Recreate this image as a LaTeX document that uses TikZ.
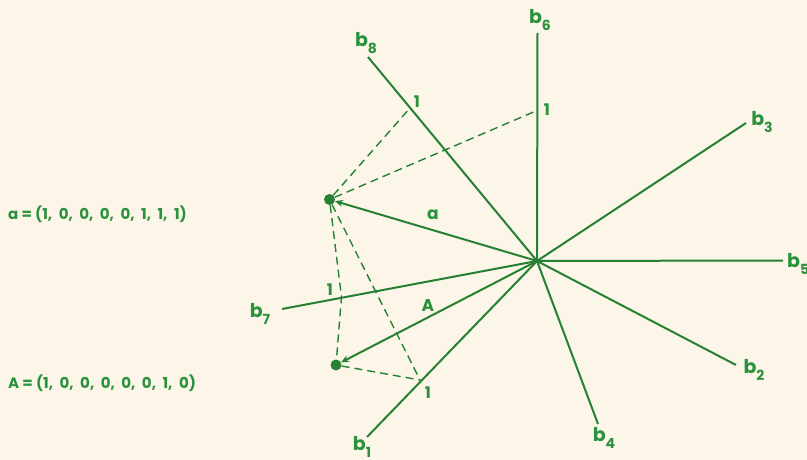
\documentclass[tikz,border=0pt]{standalone}
\usepackage{fontspec}
\setmainfont{Poppins}
\usetikzlibrary{arrows.meta}
\definecolor{bg}{RGB}{252,246,232}
\definecolor{ln}{RGB}{38,128,52}
\definecolor{tx}{RGB}{42,145,60}
\newcommand{\bsub}[1]{b\raisebox{-0.35em}{\fontsize{14}{14}\selectfont #1}}
\newcommand{\cm}{,\hspace{6.5pt}}
\tikzset{
  ray/.style={draw=ln, line width=2pt},
  vec/.style={draw=ln, line width=2pt, -{Stealth[length=8pt,width=7pt]}},
  dsh/.style={draw=ln, line width=1.4pt, dash pattern=on 8pt off 5pt},
  dot/.style={circle, fill=ln, inner sep=0pt, minimum size=11pt},
  blab/.style={text=tx, font=\fontsize{19}{19}\selectfont\bfseries, inner sep=0pt},
  onelab/.style={text=tx, font=\fontsize{16}{16}\selectfont\bfseries, inner sep=0pt},
  eq/.style={text=tx, font=\fontsize{15}{15}\selectfont\bfseries, inner sep=0pt, anchor=west},
}
\begin{document}
\begin{tikzpicture}[x=1pt,y=-1pt]
\fill[bg] (0,0) rectangle (807,460);
\useasboundingbox (0,0) rectangle (807,460);
% centre
\coordinate (O) at (537,261);
% ray ends
\coordinate (e6) at (537.5,33);
\coordinate (e8) at (368,57);
\coordinate (e3) at (746,123);
\coordinate (e5) at (783,260.5);
\coordinate (e2) at (736,365);
\coordinate (e4) at (598,424);
\coordinate (e1) at (367,437);
\coordinate (e7) at (282,309);
\foreach \e in {e6,e8,e3,e5,e2,e4,e1,e7} \draw[ray] (O) -- (\e);
% ray labels
\node[blab] (l6) at (540,20) {\bsub{6}};
\node[blab] (l8) at (366,43) {\bsub{8}};
\node[blab] (l3) at (762,122) {\bsub{3}};
\node[blab, anchor=west] (l5) at (787,264) {\bsub{5}};
\node[blab] (l2) at (754,370) {\bsub{2}};
\node[blab] (l4) at (604,438) {\bsub{4}};
\node[blab] (l1) at (362,447) {\bsub{1}};
\node[blab] (l7) at (260,314) {\bsub{7}};
% tick points
\coordinate (t8) at (410,108);
\coordinate (t6) at (537,110.5);
\coordinate (t7) at (341.5,297);
\coordinate (t1) at (420,380);
\node[onelab] (n8) at (417,102) {1};
\node[onelab] (n6) at (547,110) {1};
\node[onelab] (n7) at (330,290) {1};
\node[onelab] (n1) at (428,393) {1};
% vector points
\node[dot] (a) at (329.5,199.5) {};
\node[dot] (A) at (336,365) {};
% dashed projections
\draw[dsh] (a) -- (t8);
\draw[dsh] (a) -- (t6);
\draw[dsh] (a) -- (t7) -- (A);
\draw[dsh] (a) -- (t1);
\draw[dsh] (A) -- (t1);
% vectors
\draw[vec] (O) -- (a);
\draw[vec] (O) -- (A);
\node[text=tx, font=\fontsize{17}{17}\selectfont\bfseries, inner sep=0pt] (la) at (433,215) {a};
\node[text=tx, font=\fontsize{17}{17}\selectfont\bfseries, inner sep=0pt] (lA) at (428,306) {A};
% equations
\node[eq] (qa) at (8,214) {a = (1\cm 0\cm 0\cm 0\cm 0\cm 1\cm 1\cm 1)};
\node[eq] (qA) at (8,383) {A = (1\cm 0\cm 0\cm 0\cm 0\cm 0\cm 1\cm 0)};
\end{tikzpicture}
\end{document}
